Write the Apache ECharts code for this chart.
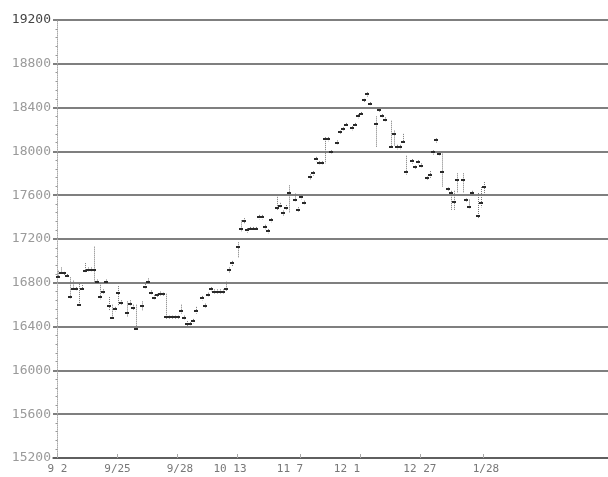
<!DOCTYPE html>
<html>
<head>
<meta charset="utf-8">
<script src="https://cdn.jsdelivr.net/npm/echarts@6/dist/echarts.min.js"></script>
<style>
html,body{margin:0;padding:0;background:#fff;}
#c{width:608px;height:477px;}
</style>
</head>
<body>
<div id="c"></div>
<script>
// trading-day index of each bar
const days = [0,1,2,3,4,5,6,7,8,9,
10,11,12,13,14,15,16,17,18,19,
20,21,23,24,25,26,28,29,30,31,
32,33,34,35,36,37,38,39,40,41,
42,43,44,45,46,48,49,50,51,52,
53,54,55,56,57,58,60,61,62,63,
64,65,66,67,68,69,70,71,73,74,
75,76,77,79,80,81,82,84,85,86,
87,88,89,90,91,93,94,95,96,98,
99,100,101,102,103,104,106,107,108,109,
111,112,113,114,115,116,118,119,120,121,
123,124,125,126,127,128,130,131,132,133,
135,136,137,138,140,141,142];
const closes = [16850,16890,16890,16865,16670,16745,16745,16600,16745,16910,
16920,16920,16920,16810,16670,16720,16810,16585,16480,16565,
16710,16615,16520,16610,16570,16375,16585,16765,16810,16710,
16665,16685,16695,16695,16485,16485,16485,16485,16485,16540,
16480,16425,16425,16450,16545,16665,16585,16690,16740,16720,
16720,16720,16720,16740,16915,16980,17125,17290,17365,17280,
17295,17295,17295,17400,17400,17310,17270,17375,17485,17505,
17435,17485,17620,17560,17465,17580,17530,17765,17800,17930,
17895,17895,18110,18110,17995,18080,18175,18205,18245,18210,
18245,18320,18345,18465,18520,18435,18250,18375,18325,18290,
18040,18160,18040,18040,18085,17810,17910,17855,17900,17870,
17755,17780,17990,18100,17980,17810,17655,17620,17535,17735,
17735,17555,17495,17620,17410,17530,17675];
const highs = [16910,16940,16900,16880,16850,16820,16760,16790,16780,16980,
16940,16940,17130,16830,16800,16740,16830,16670,16600,16580,
16770,16640,16630,16640,16600,16600,16630,16790,16840,16730,
16690,16700,16720,16710,16700,16500,16500,16500,16500,16600,
16500,16450,16440,16470,16580,16680,16610,16710,16760,16740,
16740,16740,16740,16810,16940,17000,17170,17370,17390,17300,
17310,17310,17310,17420,17420,17330,17290,17390,17585,17530,
17460,17510,17690,17615,17490,17600,17550,17790,17820,17950,
17910,17910,18130,18130,18010,18100,18190,18220,18260,18230,
18260,18340,18360,18480,18540,18450,18320,18390,18340,18310,
18280,18190,18060,18060,18160,17960,17930,17870,17920,17890,
17770,17820,18010,18120,18000,17980,17670,17640,17640,17800,
17800,17570,17560,17640,17620,17675,17720];
const lows = [16840,16880,16870,16850,16650,16730,16730,16590,16730,16890,
16900,16900,16810,16790,16650,16700,16790,16550,16470,16540,
16590,16600,16490,16590,16550,16370,16550,16750,16790,16690,
16650,16670,16680,16680,16470,16470,16470,16470,16470,16520,
16460,16400,16410,16430,16520,16640,16570,16670,16720,16700,
16700,16700,16700,16720,16890,16950,17030,17270,17340,17260,
17280,17280,17280,17380,17380,17290,17250,17350,17465,17490,
17410,17470,17440,17540,17450,17560,17510,17740,17780,17910,
17880,17880,17890,18090,17980,18060,18160,18190,18230,18190,
18230,18300,18330,18450,18500,18420,18040,18360,18310,18270,
18030,18055,18020,18020,18070,17790,17890,17840,17880,17850,
17740,17760,17970,18080,17960,17670,17640,17460,17460,17620,
17620,17540,17480,17600,17390,17490,17600];
const yTickLabels = ['15200','15600','16000','16400','16800','17200','17600','18000','18400','18800','19200'];
const xLabels = ['9 2','9/25','9/28','10 13','11 7','12 1','12 27','1/28'];
const xLabelDays = [0,20,40.8,57.5,77.5,96.5,120.8,142.8];
const xTickDays = [0,20,40,60,81,101,121,142];

const seriesData = days.map((d,i)=>[d, closes[i], highs[i], lows[i]]);
const chart = echarts.init(document.getElementById('c'), null, {renderer:'canvas'});
chart.setOption({
  animation:false,
  backgroundColor:'#fff',
  grid:{left:53,right:0,top:20,bottom:19,containLabel:false},
  xAxis:{
    type:'value', min:-1.5, max:183.5,
    splitLine:{show:false},
    axisLine:{show:true,lineStyle:{color:'#555',width:1.5}},
    axisTick:{show:true,inside:true,length:4,customValues:xTickDays,lineStyle:{color:'#aaa'}},
    axisLabel:{
      customValues:xLabelDays, margin:6,
      fontFamily:'DejaVu Sans Mono', fontSize:11, color:'#777',
      formatter:function(v){
        let best=0,bd=1e9;
        xLabelDays.forEach((p,i)=>{const d=Math.abs(p-v); if(d<bd){bd=d;best=i;}});
        return xLabels[best];
      }
    }
  },
  yAxis:{
    type:'value', min:15200, max:19200, interval:400,
    axisLine:{show:true,lineStyle:{color:'#aaa',type:'dotted',width:1}},
    axisTick:{show:false},
    minorTick:{show:true,splitNumber:5,length:2,lineStyle:{color:'#999'}},
    minorSplitLine:{show:false},
    splitLine:{show:true,lineStyle:{color:'#555',width:1.5}},
    axisLabel:{
      margin:2, fontFamily:'DejaVu Sans Mono', fontSize:13,
      color:function(v){ return String(v)==='19200' ? '#444' : '#9a9a9a'; },
      formatter:function(v){
        const s=String(v);
        return yTickLabels.indexOf(s)>=0 ? s : '';
      }
    }
  },
  series:[{
    type:'custom',
    data:seriesData,
    encode:{x:0,y:1},
    renderItem:function(params,api){
      const x=api.value(0);
      const c=api.coord([x,api.value(1)]);
      const h=api.coord([x,api.value(2)]);
      const l=api.coord([x,api.value(3)]);
      const cx=Math.round(c[0])+0.5;
      return {type:'group',children:[
        {type:'line',shape:{x1:cx,y1:h[1],x2:cx,y2:l[1]},style:{stroke:'#777',lineWidth:1,lineDash:[1,1]}},
        {type:'rect',shape:{x:Math.round(c[0])-2,y:Math.round(c[1])-1,width:4,height:2},style:{fill:'#2a2a2a'}}
      ]};
    }
  }]
});
</script>
</body>
</html>
